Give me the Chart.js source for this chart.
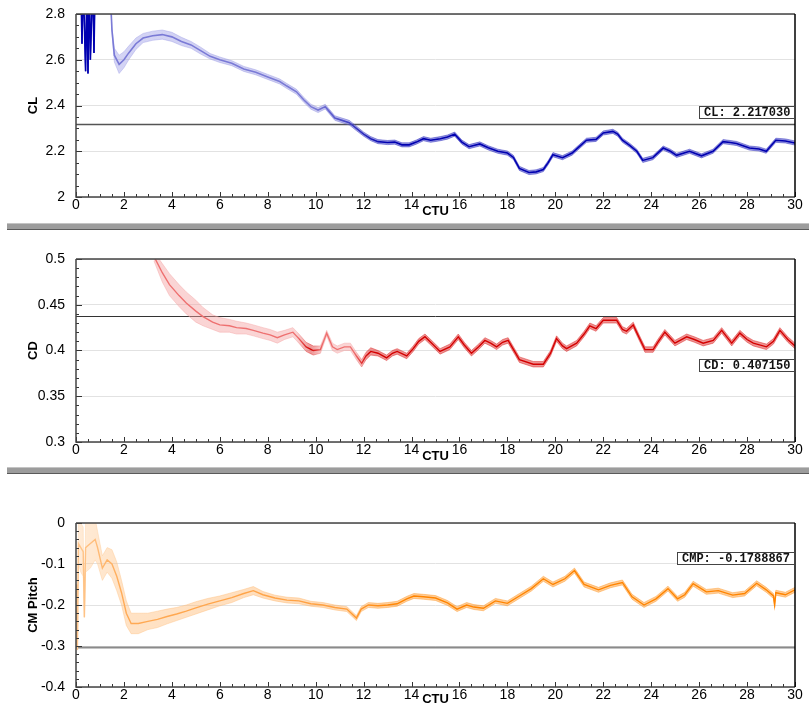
<!DOCTYPE html>
<html><head><meta charset="utf-8">
<script src="https://cdn.jsdelivr.net/npm/chart.js@4/dist/chart.umd.min.js"></script>
<style>
body{margin:0;background:#fff;width:809px;height:709px;overflow:hidden;position:relative}
.panel{position:absolute;left:0;width:809px}
.panel canvas{display:block}
.sep{position:absolute;left:7px;right:0;height:5px;background:#9c9c9c;border-top:1px solid #c4c4c4;border-bottom:1px solid #5a5a5a}
</style></head><body>
<div class="panel" style="top:0;height:222px"><canvas id="c1" width="809" height="222"></canvas></div>
<div class="sep" style="top:223px"></div>
<div class="panel" style="top:231px;height:236px"><canvas id="c2" width="809" height="236"></canvas></div>
<div class="sep" style="top:467px"></div>
<div class="panel" style="top:475px;height:234px"><canvas id="c3" width="809" height="234"></canvas></div>
<script>
// ---------- data ----------
const xTicks = [0,2,4,6,8,10,12,14,16,18,20,22,24,26,28,30];
const clTicks = [2,2.2,2.4,2.6,2.8];
const cdTicks = [0.3,0.35,0.4,0.45,0.5];
const cmTicks = [-0.4,-0.3,-0.2,-0.1,0];

const clCtu = [0.2,0.25,0.3,0.4,0.45,0.5,0.55,0.6,0.7,0.75,0.8,1.2,1.45,1.5,1.6,1.8,2.0,2.2,2.5,2.8,3.2,3.6,4.0,4.4,4.8,5.2,5.6,6.0,6.5,7.0,7.5,8.0,8.5,8.8,9.2,9.5,9.8,10.1,10.4,10.6,10.8,11.1,11.4,11.7,12.0,12.3,12.6,13.0,13.3,13.6,13.9,14.2,14.5,14.8,15.2,15.5,15.8,16.1,16.4,16.85,17.2,17.6,18.0,18.25,18.5,18.9,19.2,19.5,19.7,19.9,20.3,20.7,21.0,21.3,21.7,22.0,22.4,22.6,22.8,23.1,23.4,23.65,24.07,24.5,24.8,25.06,25.6,26.1,26.58,27.0,27.3,27.56,28.1,28.5,28.8,29.2,29.6,30.0];
const clMean = [2.95,2.67,2.95,2.55,2.9,2.54,2.95,2.6,2.95,2.63,2.95,3.1,2.85,2.73,2.62,2.58,2.6,2.63,2.67,2.695,2.705,2.71,2.70,2.68,2.665,2.64,2.615,2.6,2.585,2.56,2.545,2.525,2.505,2.485,2.46,2.425,2.395,2.38,2.395,2.37,2.345,2.335,2.325,2.30,2.275,2.255,2.242,2.238,2.24,2.228,2.228,2.24,2.255,2.248,2.255,2.262,2.275,2.24,2.22,2.232,2.215,2.2,2.192,2.173,2.125,2.107,2.11,2.12,2.15,2.185,2.172,2.192,2.22,2.248,2.252,2.28,2.287,2.275,2.248,2.226,2.2,2.16,2.172,2.214,2.2,2.182,2.2,2.18,2.2,2.242,2.238,2.234,2.214,2.21,2.2,2.248,2.245,2.236];
const clSpread = [0,0,0,0,0,0,0,0,0,0,0,0,0,0.01,0.03,0.04,0.035,0.03,0.025,0.02,0.02,0.02,0.02,0.018,0.015,0.015,0.012,0.012,0.011,0.011,0.011,0.011,0.011,0.011,0.011,0.011,0.011,0.011,0.01,0.01,0.01,0.01,0.01,0.01,0.009,0.009,0.009,0.009,0.009,0.009,0.009,0.009,0.009,0.009,0.009,0.009,0.009,0.009,0.009,0.009,0.009,0.009,0.009,0.009,0.009,0.009,0.009,0.009,0.009,0.009,0.009,0.009,0.009,0.009,0.009,0.009,0.009,0.009,0.009,0.009,0.009,0.009,0.009,0.009,0.009,0.009,0.009,0.009,0.009,0.009,0.009,0.009,0.009,0.009,0.009,0.009,0.009,0.009];
const clRef = 2.32;
const clLabel = 'CL: 2.217030';

const cdCtu = [3.25,3.6,3.9,4.3,4.6,5.0,5.3,5.7,6.0,6.4,6.7,7.1,7.4,7.8,8.1,8.4,8.7,9.05,9.3,9.6,9.9,10.2,10.46,10.7,10.9,11.2,11.45,11.7,11.92,12.1,12.3,12.6,12.96,13.2,13.4,13.8,14.07,14.3,14.56,14.8,15.19,15.6,15.95,16.2,16.5,16.8,17.06,17.3,17.55,17.8,18.03,18.3,18.5,19.08,19.5,19.8,20.05,20.3,20.47,20.89,21.2,21.44,21.7,22.0,22.56,22.8,22.97,23.25,23.5,23.74,24.08,24.3,24.57,24.99,25.48,25.8,26.17,26.59,26.94,27.36,27.7,28.0,28.26,28.81,29.1,29.37,29.7,30.0];
const cdMean = [0.503,0.485,0.472,0.46,0.452,0.443,0.437,0.431,0.428,0.427,0.425,0.424,0.422,0.419,0.417,0.414,0.417,0.42,0.413,0.404,0.400,0.401,0.419,0.404,0.401,0.404,0.404,0.394,0.386,0.394,0.399,0.397,0.392,0.397,0.399,0.394,0.402,0.41,0.415,0.409,0.399,0.404,0.415,0.406,0.397,0.404,0.411,0.408,0.404,0.409,0.411,0.399,0.39,0.385,0.385,0.397,0.413,0.405,0.402,0.408,0.418,0.427,0.424,0.433,0.433,0.423,0.421,0.428,0.414,0.401,0.401,0.41,0.42,0.408,0.415,0.412,0.408,0.411,0.422,0.408,0.419,0.412,0.408,0.404,0.41,0.422,0.412,0.405];
const cdSpread = [0.005,0.01,0.012,0.012,0.012,0.012,0.01,0.008,0.008,0.007,0.007,0.006,0.006,0.006,0.006,0.006,0.005,0.005,0.005,0.005,0.005,0.004,0.003,0.004,0.004,0.004,0.004,0.004,0.004,0.004,0.004,0.003,0.003,0.003,0.003,0.003,0.003,0.003,0.003,0.003,0.003,0.003,0.003,0.003,0.003,0.003,0.003,0.003,0.003,0.003,0.003,0.003,0.003,0.003,0.003,0.003,0.003,0.003,0.003,0.003,0.003,0.003,0.003,0.003,0.003,0.003,0.003,0.003,0.003,0.003,0.003,0.003,0.003,0.003,0.003,0.003,0.003,0.003,0.003,0.003,0.003,0.003,0.003,0.003,0.003,0.003,0.003,0.003];
const cdRef = 0.4375;
const cdLabel = 'CD: 0.407150';

const cmCtu = [0.0,0.03,0.06,0.1,0.2,0.3,0.35,0.4,0.6,0.8,0.9,1.1,1.3,1.5,1.7,1.9,2.1,2.3,2.6,3.0,3.4,3.8,4.2,4.6,5.0,5.5,6.0,6.5,7.0,7.4,7.8,8.3,8.8,9.3,9.8,10.3,10.8,11.3,11.7,11.9,12.2,12.6,13.0,13.4,13.8,14.1,14.5,15.0,15.5,15.9,16.3,16.6,17.0,17.5,18.0,18.5,19.0,19.5,19.9,20.4,20.8,21.2,21.8,22.3,22.8,23.2,23.7,24.2,24.7,25.1,25.4,25.75,26.3,26.8,27.4,27.9,28.4,28.8,29.1,29.15,29.2,29.6,30.0];
const cmMean = [-0.30,-0.15,-0.31,-0.05,-0.06,-0.07,-0.23,-0.06,-0.05,-0.04,-0.06,-0.11,-0.09,-0.1,-0.13,-0.17,-0.22,-0.245,-0.245,-0.24,-0.235,-0.228,-0.222,-0.215,-0.207,-0.198,-0.19,-0.182,-0.172,-0.165,-0.175,-0.183,-0.188,-0.19,-0.197,-0.2,-0.206,-0.21,-0.232,-0.21,-0.2,-0.202,-0.2,-0.197,-0.185,-0.178,-0.18,-0.183,-0.195,-0.21,-0.2,-0.205,-0.208,-0.19,-0.196,-0.178,-0.16,-0.136,-0.15,-0.136,-0.116,-0.15,-0.163,-0.152,-0.145,-0.18,-0.2,-0.185,-0.16,-0.185,-0.175,-0.148,-0.168,-0.165,-0.176,-0.172,-0.147,-0.163,-0.178,-0.2,-0.17,-0.175,-0.163];
const cmSpread = [0,0,0,0.05,0.06,0.06,0,0.06,0.06,0.05,0.04,0.03,0.03,0.035,0.035,0.03,0.03,0.025,0.025,0.02,0.02,0.018,0.016,0.015,0.015,0.014,0.012,0.012,0.01,0.01,0.008,0.007,0.007,0.007,0.006,0.006,0.006,0.006,0.006,0.006,0.006,0.006,0.006,0.006,0.006,0.006,0.006,0.006,0.006,0.006,0.006,0.006,0.006,0.006,0.006,0.006,0.006,0.006,0.006,0.006,0.006,0.006,0.006,0.006,0.006,0.006,0.006,0.006,0.006,0.006,0.006,0.006,0.006,0.006,0.006,0.006,0.006,0.006,0.006,0.006,0.006,0.006,0.006];
const cmRef = -0.302;
const cmLabel = 'CMP: -0.1788867';

// ---------- helpers ----------
function hexA(h,a){const n=parseInt(h.slice(1),16);return `rgba(${n>>16},${(n>>8)&255},${n&255},${a})`;}
function grad(chart, stops, alpha){
  if(!chart.chartArea) return alpha==null?stops[0][1]:hexA(stops[0][1],alpha);
  const xs=chart.scales.x; const x0=xs.getPixelForValue(0), x1=xs.getPixelForValue(30);
  const g=chart.ctx.createLinearGradient(x0,0,x1,0);
  stops.forEach(([t,c])=>g.addColorStop(Math.min(1,Math.max(0,t/30)), alpha==null?c:hexA(c,alpha)));
  return g;
}
const framePlugin={
  id:'frame',
  beforeDatasetsDraw(chart,args,o){
    const {ctx,chartArea:a,scales:{y}}=chart;
    const ry=Math.round(y.getPixelForValue(o.ref))+0.5;
    ctx.save();ctx.strokeStyle=o.refColor;ctx.lineWidth=o.refWidth;
    ctx.beginPath();ctx.moveTo(a.left,ry);ctx.lineTo(a.right,ry);ctx.stroke();ctx.restore();
  },
  afterDatasetsDraw(chart,args,o){
    const {ctx,chartArea:a,scales:{x,y}}=chart;
    ctx.save();
    ctx.strokeStyle='#333';ctx.lineWidth=1;ctx.beginPath();
    const nx=Math.round((x.max-x.min)/o.xMinor);
    for(let i=0;i<=nx;i++){const v=x.min+i*o.xMinor;const px=Math.round(x.getPixelForValue(v))+0.5;
      const maj=i%o.xSub===0;const L=maj?5:3;ctx.moveTo(px,a.bottom);ctx.lineTo(px,a.bottom-L);}
    const ny=Math.round((y.max-y.min)/o.yMinor);
    for(let i=0;i<=ny;i++){const v=y.min+i*o.yMinor;const py=Math.round(y.getPixelForValue(v))+0.5;
      const maj=i%o.ySub===0;const L=maj?6:3;ctx.moveTo(a.left,py);ctx.lineTo(a.left+L,py);}
    ctx.stroke();
    ctx.strokeStyle='#444';ctx.lineWidth=1.5;ctx.beginPath();
    ctx.moveTo(a.left,a.top);ctx.lineTo(a.right,a.top);
    ctx.moveTo(a.left,a.top);ctx.lineTo(a.left,a.bottom);ctx.lineTo(a.right,a.bottom);
    ctx.stroke();
    ctx.strokeStyle='#000';ctx.lineWidth=1.5;ctx.beginPath();ctx.moveTo(a.right,a.top);ctx.lineTo(a.right,a.bottom);ctx.stroke();
    ctx.font='bold 12px "Liberation Mono", monospace';
    const tw=ctx.measureText(o.label).width;const bw=Math.round(tw+10),bh=13;
    const bx=Math.round(a.right-bw),by=Math.round(a.top+o.labelTop);
    ctx.fillStyle='#fff';ctx.fillRect(bx,by,bw,bh);
    ctx.strokeStyle='#444';ctx.lineWidth=1;ctx.strokeRect(bx+0.5,by+0.5,bw-1,bh-1);
    ctx.fillStyle='#111';ctx.textBaseline='middle';ctx.textAlign='left';
    ctx.fillText(o.label,bx+5,by+bh/2+0.5);
    ctx.restore();
  }
};
function pts(xs,ys){return xs.map((v,i)=>({x:v,y:ys[i]}));}
function makeChart(id,cfg){
  const up=cfg.mean.map((v,i)=>v+cfg.spread[i]);
  const lo=cfg.mean.map((v,i)=>v-cfg.spread[i]);
  return new Chart(document.getElementById(id),{
    type:'line',
    data:{datasets:[
      {data:pts(cfg.ctu,cfg.mean),borderWidth:cfg.lw,pointRadius:0,tension:0,fill:false,
       borderColor:c=>grad(c.chart,cfg.lineStops)},
      {data:pts(cfg.ctu,up),borderWidth:0.6,pointRadius:0,tension:0,fill:false,
       borderColor:c=>grad(c.chart,cfg.bandStops,0.7)},
      {data:pts(cfg.ctu,lo),borderWidth:0.6,pointRadius:0,tension:0,fill:'-1',
       borderColor:c=>grad(c.chart,cfg.bandStops,0.7),
       backgroundColor:c=>grad(c.chart,cfg.bandStops,0.45)}
    ]},
    options:{
      responsive:false,animation:false,devicePixelRatio:1,
      layout:{padding:{left:0,right:14,top:cfg.padTop,bottom:0}},
      plugins:{legend:{display:false},tooltip:{enabled:false},
        frame:{ref:cfg.ref,refColor:cfg.refColor,refWidth:cfg.refWidth,label:cfg.label,labelTop:cfg.labelTop,
               xMinor:0.5,xSub:4,yMinor:cfg.yMinor,ySub:cfg.ySub}},
      scales:{
        x:{type:'linear',min:0,max:30,
          afterBuildTicks:s=>{s.ticks=xTicks.map(v=>({value:v}));},
          afterFit:s=>{s.height=cfg.xH;s.paddingLeft=0;s.paddingRight=0;s.paddingTop=0;s.paddingBottom=0;},
          grid:{display:false,drawTicks:false},border:{display:false},
          ticks:{font:{family:'"Liberation Sans", Arial, sans-serif',size:14},color:'#000',padding:0,maxRotation:0,autoSkip:false,callback:v=>String(v)},
          title:{display:true,text:'CTU',color:'#000',font:{family:'"Liberation Sans", Arial, sans-serif',size:13,weight:'bold'},padding:{top:0,bottom:cfg.ctuPad}}},
        y:{type:'linear',min:cfg.yTicks[0],max:cfg.yTicks[cfg.yTicks.length-1],
          afterBuildTicks:s=>{s.ticks=cfg.yTicks.map(v=>({value:v}));},
          afterFit:s=>{s.width=76;s.paddingTop=0;s.paddingBottom=0;s.paddingLeft=0;s.paddingRight=0;},
          grid:{color:'#e2e2e2',lineWidth:1,drawTicks:false},border:{display:false},
          ticks:{font:{family:'"Liberation Sans", Arial, sans-serif',size:14},color:'#000',padding:11,callback:v=>String(v)},
          title:{display:true,text:cfg.title,color:'#000',font:{family:'"Liberation Sans", Arial, sans-serif',size:13,weight:'bold'},padding:{top:25.2,bottom:0}}}
      }
    },
    plugins:[framePlugin]
  });
}
makeChart('c1',{ctu:clCtu,mean:clMean,spread:clSpread,yTicks:clTicks,title:'CL',ref:clRef,label:clLabel,
  padTop:14,xH:25,ctuPad:2.9,labelTop:92,refColor:'#555',refWidth:1.5,yMinor:0.05,ySub:4,lw:1.6,
  lineStops:[[0,'#0000b0'],[1.0,'#0000b0'],[1.4,'#7a7ad6'],[10,'#7a7ad6'],[13,'#0000b0'],[30,'#0000b0']],
  bandStops:[[0,'#0000b0'],[1.0,'#0000b0'],[1.4,'#a0a0e8'],[10,'#9090e0'],[13,'#1515b8'],[30,'#1515b8']]});
makeChart('c2',{ctu:cdCtu,mean:cdMean,spread:cdSpread,yTicks:cdTicks,title:'CD',ref:cdRef,label:cdLabel,
  padTop:28,xH:25,ctuPad:2.7,labelTop:100,refColor:'#333',refWidth:1,yMinor:0.01,ySub:5,lw:1.4,
  lineStops:[[0,'#ee7070'],[9.2,'#ee7070'],[9.8,'#d40000'],[10.3,'#ee7070'],[11.6,'#ee7070'],[12.2,'#d40000'],[30,'#d40000']],
  bandStops:[[0,'#f4a0a0'],[9.2,'#f4a0a0'],[9.8,'#d81010'],[10.3,'#f4a0a0'],[11.6,'#f4a0a0'],[12.2,'#d81010'],[30,'#d81010']]});
makeChart('c3',{ctu:cmCtu,mean:cmMean,spread:cmSpread,yTicks:cmTicks,title:'CM Pitch',ref:cmRef,label:cmLabel,
  padTop:48,xH:22,ctuPad:1.7,labelTop:29,refColor:'#8a8a8a',refWidth:2,yMinor:0.02,ySub:5,lw:1.4,
  lineStops:[[0,'#ffc890'],[2,'#ffaa55'],[11,'#ffa040'],[13.5,'#ff8400'],[30,'#ff8400']],
  bandStops:[[0,'#ffd4a8'],[2,'#ffc080'],[11,'#ffb060'],[13.5,'#ff9018'],[30,'#ff9018']]});
</script>
</body></html>
